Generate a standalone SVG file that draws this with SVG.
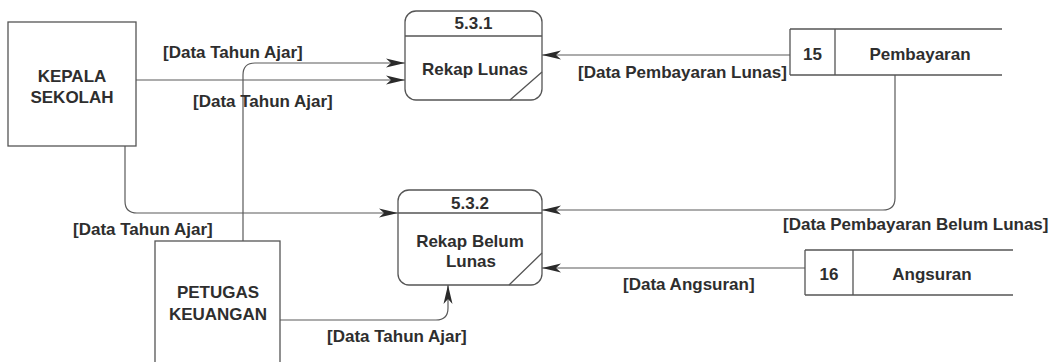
<svg xmlns="http://www.w3.org/2000/svg" width="1051" height="362" viewBox="0 0 1051 362">
  <defs>
    <style>
      .box { fill: #fff; stroke: #555; stroke-width: 1.3; }
      .ln { fill: none; stroke: #555; stroke-width: 1.3; }
      .flow { fill: none; stroke: #5a5a5a; stroke-width: 1.2; marker-end: url(#arrow); }
      text { font-family: "Liberation Sans", Arial, sans-serif; font-size: 17px; font-weight: bold; fill: #2e2e2e; }
      .c { text-anchor: middle; }
    </style>
    <marker id="arrow" markerUnits="userSpaceOnUse" markerWidth="20" markerHeight="10" refX="19" refY="5" orient="auto">
      <path d="M0,0.5 L19,5 L0,9.5 L5,5 Z" fill="#2a2a2a"/>
    </marker>
  </defs>

  <rect width="1051" height="362" fill="#fff"/>

  <!-- data flows -->
  <g id="connectors">
    <path class="flow" d="M136,80 H405"/>
    <path class="flow" d="M243,241 V75 Q243,63 255,63 H405"/>
    <path class="flow" d="M790,55 H542"/>
    <path class="flow" d="M125,146 V201 Q125,213 137,213 H398"/>
    <path class="flow" d="M895,75 V198 Q895,210 883,210 H542"/>
    <path class="flow" d="M805,268 H542"/>
    <path class="flow" d="M280,320 H436 Q448,320 448,308 V285"/>

    <text x="163" y="58">[Data Tahun Ajar]</text>
    <text x="193" y="107">[Data Tahun Ajar]</text>
    <text x="578" y="78">[Data Pembayaran Lunas]</text>
    <text x="73" y="235">[Data Tahun Ajar]</text>
    <text x="783" y="230">[Data Pembayaran Belum Lunas]</text>
    <text x="623" y="290">[Data Angsuran]</text>
    <text x="327" y="342">[Data Tahun Ajar]</text>
  </g>

  <!-- external entities -->
  <g id="kepala-sekolah">
    <rect class="box" x="8" y="22" width="128" height="124"/>
    <text class="c" x="72" y="82">KEPALA</text>
    <text class="c" x="72" y="103">SEKOLAH</text>
  </g>

  <g id="petugas-keuangan">
    <rect class="box" x="155" y="241" width="125" height="130"/>
    <text class="c" x="218" y="298">PETUGAS</text>
    <text class="c" x="218" y="320">KEUANGAN</text>
  </g>

  <!-- processes -->
  <g id="p531">
    <rect class="box" x="405" y="11" width="137" height="89" rx="11"/>
    <path class="ln" d="M405,36 H542 M510,100 L542,72"/>
    <text class="c" x="473.5" y="29">5.3.1</text>
    <text class="c" x="475" y="75">Rekap Lunas</text>
  </g>

  <g id="p532">
    <rect class="box" x="398" y="190" width="144" height="95" rx="11"/>
    <path class="ln" d="M398,213 H542 M509,285 L542,253"/>
    <text class="c" x="470" y="209">5.3.2</text>
    <text class="c" x="470" y="247">Rekap Belum</text>
    <text class="c" x="471" y="267">Lunas</text>
  </g>

  <!-- data stores -->
  <g id="ds15">
    <path class="ln" d="M790,29 H1002 M790,75 H1002 M790,29 V75 M835,29 V75"/>
    <text class="c" x="812.5" y="60">15</text>
    <text class="c" x="920" y="60">Pembayaran</text>
  </g>

  <g id="ds16">
    <path class="ln" d="M805,250 H1013 M805,295 H1013 M805,250 V295 M853,250 V295"/>
    <text class="c" x="829" y="280">16</text>
    <text class="c" x="932" y="280">Angsuran</text>
  </g>
</svg>
